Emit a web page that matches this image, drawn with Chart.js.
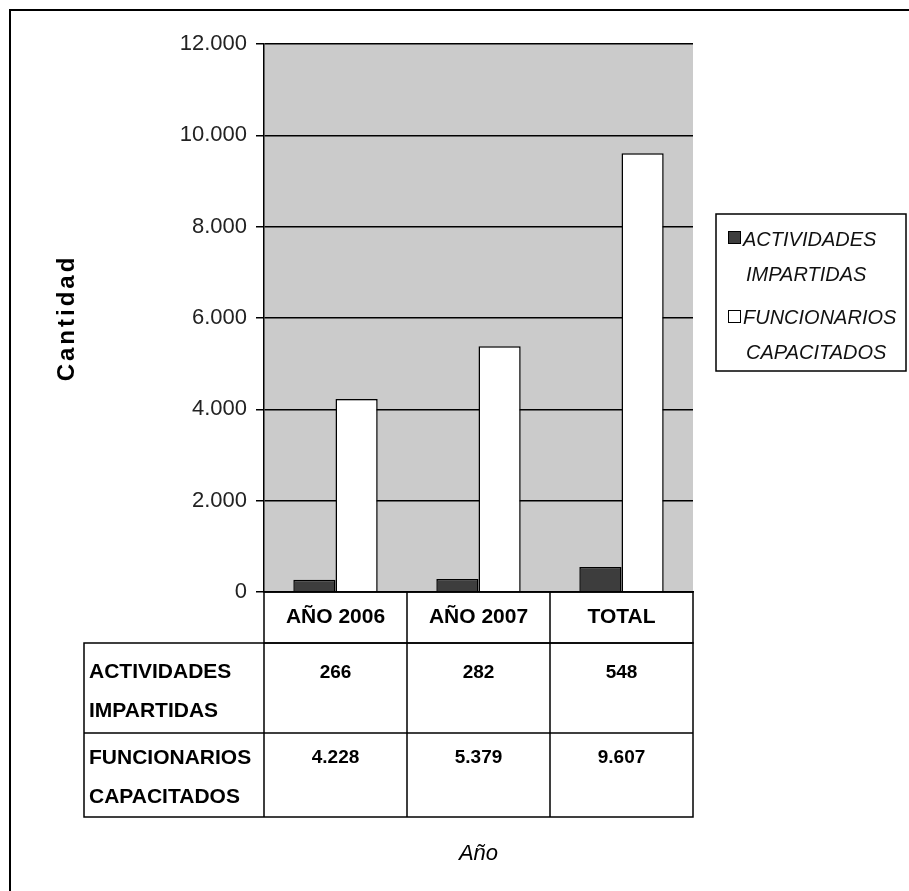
<!DOCTYPE html>
<html>
<head>
<meta charset="utf-8">
<script src="https://cdn.jsdelivr.net/npm/chart.js@4.4.0/dist/chart.umd.min.js"></script>
<style>
    html, body { margin: 0; padding: 0; background: #fff; }
    #wrap { width: 909px; height: 891px; }
</style>
</head>
<body>
<div id="wrap"><canvas id="barChart" width="909" height="891"></canvas></div>
<script>
// data
var categories = ['AÑO 2006', 'AÑO 2007', 'TOTAL'];
var seriesNames = ['ACTIVIDADES IMPARTIDAS', 'FUNCIONARIOS CAPACITADOS'];
var actividades = [266, 282, 548];
var funcionarios = [4228, 5379, 9607];
var yTicks = [0, 2000, 4000, 6000, 8000, 10000, 12000];

var FONT = '"Liberation Sans", Arial, sans-serif';
var DARK = '#3d3d3d';

function fmt(v) {
    return String(v).replace(/\B(?=(\d{3})+(?!\d))/g, '.');
}

// Excel-like frame, gray plot area, data table, legend and titles
var excelLook = {
    id: 'excelLook',
    beforeDraw: function (chart) {
        var ctx = chart.ctx, a = chart.chartArea;
        ctx.save();
        ctx.fillStyle = '#fff';
        ctx.fillRect(0, 0, chart.width, chart.height);
        ctx.fillStyle = '#cbcbcb';
        ctx.fillRect(a.left, a.top, a.right - a.left, a.bottom - a.top);
        // outer frame (only left and top are visible in the crop)
        ctx.strokeStyle = '#000';
        ctx.lineWidth = 2;
        ctx.beginPath();
        ctx.moveTo(10, chart.height);
        ctx.lineTo(10, 10);
        ctx.lineTo(chart.width, 10);
        ctx.stroke();
        ctx.restore();
    },
    afterDraw: function (chart) {
        var ctx = chart.ctx, a = chart.chartArea, xs = chart.scales.x;
        var colW = (a.right - a.left) / categories.length;
        var top = a.bottom;
        var y1 = top + 51, y2 = y1 + 90, y3 = y2 + 84;
        var tableLeft = 84;
        ctx.save();
        ctx.strokeStyle = '#000';
        ctx.lineWidth = 1.5;
        ctx.fillStyle = '#000';

        // table grid
        ctx.strokeRect(a.left, top, a.right - a.left, y1 - top);
        ctx.strokeRect(tableLeft, y1, a.right - tableLeft, y3 - y1);
        ctx.beginPath();
        ctx.moveTo(tableLeft, y2); ctx.lineTo(a.right, y2);
        for (var i = 0; i < categories.length; i++) {
            var lx = a.left + i * colW;
            ctx.moveTo(lx, i === 0 ? y1 : top);
            ctx.lineTo(lx, y3);
        }
        ctx.stroke();

        // header
        ctx.textAlign = 'center';
        ctx.textBaseline = 'alphabetic';
        ctx.font = 'bold 21px ' + FONT;
        categories.forEach(function (c, i) {
            ctx.fillText(c, xs.getPixelForValue(i), top + 31);
        });

        // row labels
        ctx.textAlign = 'left';
        var rowTops = [y1, y2];
        var firstBase = [35, 31];
        seriesNames.forEach(function (name, r) {
            var words = name.split(' ');
            words.forEach(function (w, k) {
                ctx.fillText(w, tableLeft + 5, rowTops[r] + firstBase[r] + k * 39);
            });
        });

        // values
        ctx.textAlign = 'center';
        ctx.font = 'bold 19px ' + FONT;
        [actividades, funcionarios].forEach(function (vals, r) {
            vals.forEach(function (v, i) {
                ctx.fillText(fmt(v), xs.getPixelForValue(i), rowTops[r] + firstBase[r] - (r === 1 ? 1 : 0));
            });
        });

        // legend
        ctx.fillStyle = '#fff';
        ctx.fillRect(716, 214, 190, 157);
        ctx.strokeRect(716, 214, 190, 157);
        var marks = [DARK, '#fff'];
        var lineY = [[246, 281], [324, 359]];
        var markY = [231, 310];
        ctx.font = 'italic 20px ' + FONT;
        ctx.textAlign = 'left';
        seriesNames.forEach(function (name, r) {
            ctx.fillStyle = marks[r];
            ctx.fillRect(728, markY[r], 12, 12);
            ctx.lineWidth = 1;
            ctx.strokeRect(728.5, markY[r] + 0.5, 12, 12);
            ctx.fillStyle = '#111';
            name.split(' ').forEach(function (w, k) {
                ctx.fillText(w, k === 0 ? 743 : 746, lineY[r][k]);
            });
        });

        // x title
        ctx.fillStyle = '#000';
        ctx.textAlign = 'center';
        ctx.font = 'italic 22px ' + FONT;
        ctx.fillText('Año', (a.left + a.right) / 2, 860);

        // y title
        ctx.translate(67, (a.top + a.bottom) / 2);
        ctx.rotate(-Math.PI / 2);
        ctx.font = 'bold 24px ' + FONT;
        ctx.letterSpacing = '3px';
        ctx.textBaseline = 'middle';
        ctx.fillText('Cantidad', 0, 0);
        ctx.restore();
    }
};

var ctx = document.getElementById('barChart');
var myBarChart = new Chart(ctx, {
    type: 'bar',
    data: {
        labels: categories,
        datasets: [{
            label: seriesNames[0],
            data: actividades,
            backgroundColor: DARK,
            borderColor: '#000',
            borderWidth: 1.5
        }, {
            label: seriesNames[1],
            data: funcionarios,
            backgroundColor: '#fff',
            borderColor: '#000',
            borderWidth: 1.5
        }]
    },
    options: {
        responsive: false,
        animation: false,
        layout: { padding: { top: 44, right: 216, left: 0, bottom: 0 } },
        datasets: {
            bar: { barPercentage: 1, categoryPercentage: 0.59 }
        },
        plugins: {
            legend: { display: false },
            tooltip: { enabled: false }
        },
        scales: {
            x: {
                ticks: { display: false },
                grid: { display: false },
                border: { display: true, color: '#000', width: 1.5 },
                afterFit: function (s) { s.height = 299; }
            },
            y: {
                min: 0,
                max: 12000,
                afterBuildTicks: function (s) {
                    s.ticks = yTicks.map(function (v) { return { value: v }; });
                },
                ticks: {
                    padding: 9,
                    color: '#222',
                    font: { family: FONT, size: 22 },
                    callback: function (v) { return fmt(v); }
                },
                grid: { color: '#000', lineWidth: 1.5, tickLength: 8 },
                border: { color: '#000', width: 1.5 },
                afterFit: function (s) { s.width = 264; }
            }
        }
    },
    plugins: [excelLook]
});
</script>
</body>
</html>
